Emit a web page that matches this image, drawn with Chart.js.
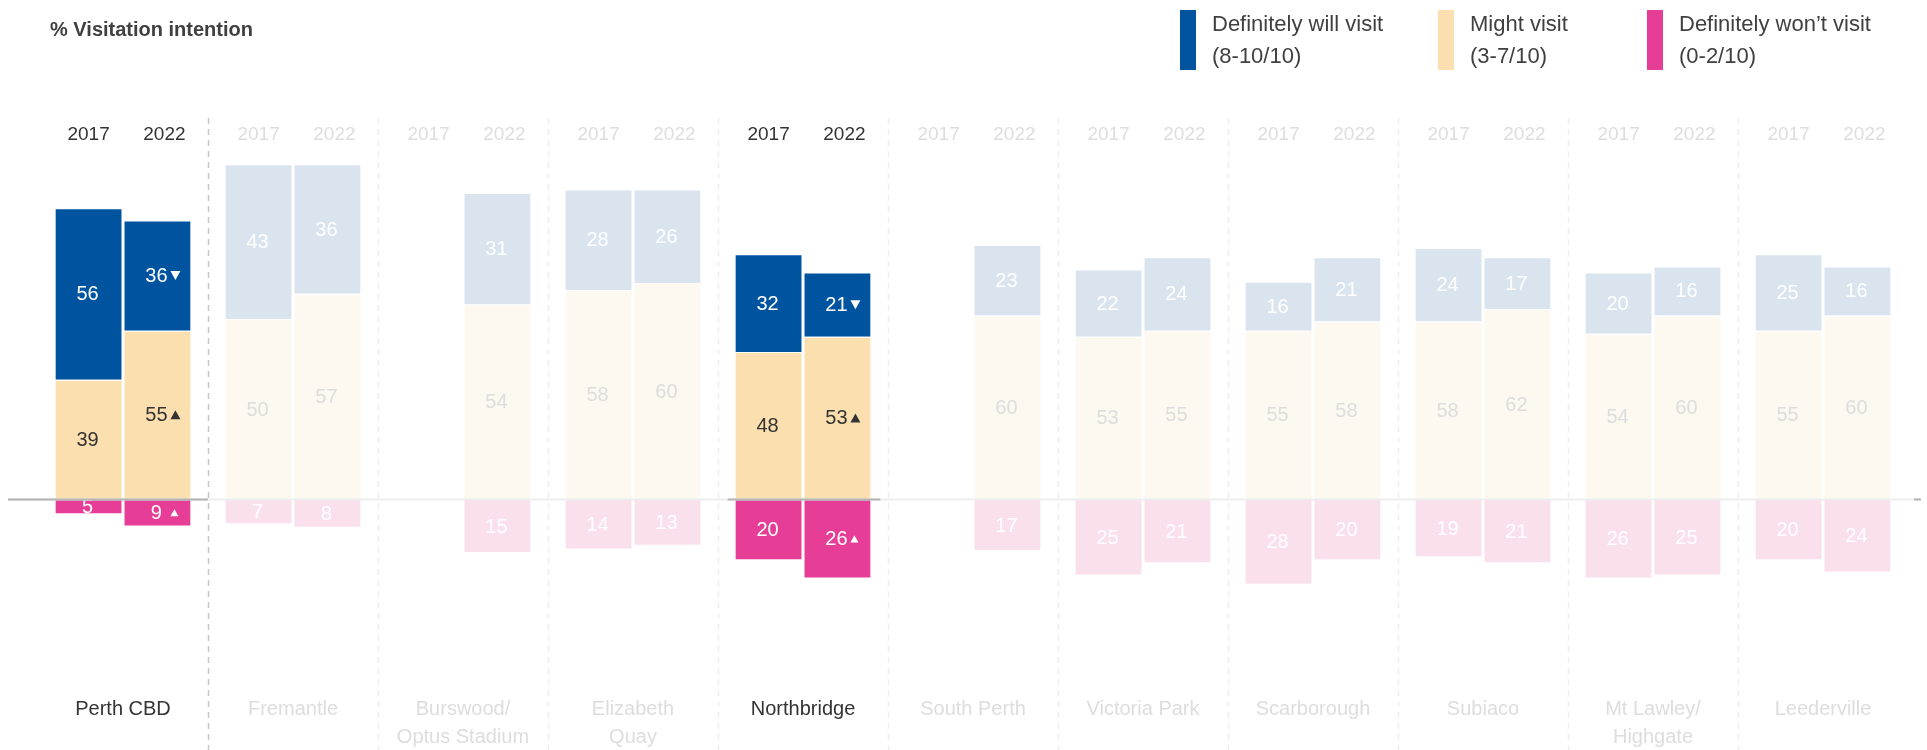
<!DOCTYPE html>
<html>
<head>
<meta charset="utf-8">
<script src="https://cdn.jsdelivr.net/npm/chart.js@4.4.0/dist/chart.umd.min.js"></script>
<style>
  body { margin: 0; background: #fff; }
  #wrap { position: relative; width: 1927px; height: 750px; color: #404040;
    font-family: 'Liberation Sans Narrow', 'Arial Narrow', 'Liberation Sans', Arial, sans-serif; }
  #wrap canvas { position: absolute; left: 0; top: 0; }
  .title { position: absolute; left: 50px; top: 18px; font-size: 20px; font-weight: bold; }
  .key { position: absolute; top: 10px; height: 60px; }
  .key i { position: absolute; left: 0; top: 0; width: 16px; height: 60px; }
  .key span { position: absolute; left: 32px; top: -2px; font-size: 22px; line-height: 32px; white-space: nowrap; }
</style>
</head>
<body>
<div id="wrap">
  <canvas id="visitChart" width="1927" height="750"></canvas>
  <div class="title">% Visitation intention</div>
  <div class="key" style="left:1180px"><i style="background:#00539F"></i><span>Definitely will visit<br>(8-10/10)</span></div>
  <div class="key" style="left:1438px"><i style="background:#FCDFAE"></i><span>Might visit<br>(3-7/10)</span></div>
  <div class="key" style="left:1647px"><i style="background:#E63E96"></i><span>Definitely won’t visit<br>(0-2/10)</span></div>
</div>
<script>
// locations and survey years
const locations = ['Perth CBD', 'Fremantle', ['Burswood/', 'Optus Stadium'], ['Elizabeth', 'Quay'], 'Northbridge',
  'South Perth', 'Victoria Park', 'Scarborough', 'Subiaco', ['Mt Lawley/', 'Highgate'], 'Leederville'];
const years = ['2017', '2022'];

// % definitely will visit
const will2017 = [56, 43, null, 28, 32, null, 22, 16, 24, 20, 25];
const will2022 = [36, 36, 31, 26, 21, 23, 24, 21, 17, 16, 16];
// % might visit
const might2017 = [39, 50, null, 58, 48, null, 53, 55, 58, 54, 55];
const might2022 = [55, 57, 54, 60, 53, 60, 55, 58, 62, 60, 60];
// % definitely won't visit (drawn below zero)
const wont2017 = [5, 7, null, 14, 20, null, 25, 28, 19, 26, 20];
const wont2022 = [9, 8, 15, 13, 26, 17, 21, 20, 21, 25, 24];

// significant change markers on 2022
const moveWill2022 = ['down', '', '', '', 'down', '', '', '', '', '', ''];
const moveMight2022 = ['up', '', '', '', 'up', '', '', '', '', '', ''];
const moveWont2022 = ['up', '', '', '', 'up', '', '', '', '', '', ''];

// which locations are highlighted, and which were drawn on a taller scale in the source
const focus = [true, false, false, false, true, false, false, false, false, false, false];
const tallScale = [false, true, true, true, false, false, false, false, false, false, false];

const FONT = "'Liberation Sans Narrow', 'Arial Narrow', 'Liberation Sans', Arial, sans-serif";
const strong = { will: '#00539F', might: '#FCDFAE', wont: '#E63E96' };
const faded = { will: '#D9E4EF', might: '#FDF9F1', wont: '#FADFED' };

function makeSet(kind, year, values, moves, tall) {
  return {
    label: kind + year,
    kind: kind,
    moves: moves,
    stack: year,
    yAxisID: tall ? 'y2' : 'y',
    data: values.map((v, i) => (v == null || tallScale[i] !== tall) ? null : (kind === 'wont' ? -v : v)),
    backgroundColor: c => (focus[c.dataIndex] ? strong : faded)[kind],
    borderColor: 'rgba(255,255,255,0.8)',
    borderWidth: 1
  };
}

const datasets = [];
[false, true].forEach(tall => {
  datasets.push(makeSet('might', '2017', might2017, null, tall));
  datasets.push(makeSet('will', '2017', will2017, null, tall));
  datasets.push(makeSet('wont', '2017', wont2017, null, tall));
  datasets.push(makeSet('might', '2022', might2022, moveMight2022, tall));
  datasets.push(makeSet('will', '2022', will2022, moveWill2022, tall));
  datasets.push(makeSet('wont', '2022', wont2022, moveWont2022, tall));
});

function triangle(ctx, x, y, w, up) {
  const h = w * 0.9;
  ctx.beginPath();
  if (up) { ctx.moveTo(x, y + h / 2); ctx.lineTo(x + w, y + h / 2); ctx.lineTo(x + w / 2, y - h / 2); }
  else { ctx.moveTo(x, y - h / 2); ctx.lineTo(x + w, y - h / 2); ctx.lineTo(x + w / 2, y + h / 2); }
  ctx.closePath();
  ctx.fill();
}

// dividers behind the bars
const dividers = {
  id: 'dividers',
  beforeDatasetsDraw(chart) {
    const { ctx, scales: { x } } = chart;
    const step = x.getPixelForValue(1) - x.getPixelForValue(0);
    ctx.save();
    ctx.lineWidth = 1.5;
    ctx.setLineDash([6, 5]);
    for (let i = 0; i < locations.length - 1; i++) {
      const px = Math.round(x.getPixelForValue(i) + step / 2) + 0.5;
      ctx.strokeStyle = i === 0 ? '#c6c6c6' : '#eeeeee';
      ctx.beginPath();
      ctx.moveTo(px, 118);
      ctx.lineTo(px, 750);
      ctx.stroke();
    }
    ctx.restore();
  }
};

// numbers in the bars, the zero line and the year labels
const annotations = {
  id: 'annotations',
  afterDatasetsDraw(chart) {
    const { ctx, scales: { x, y } } = chart;
    ctx.save();
    ctx.font = '20px ' + FONT;
    ctx.textAlign = 'center';
    ctx.textBaseline = 'middle';
    chart.data.datasets.forEach((d, di) => {
      chart.getDatasetMeta(di).data.forEach((bar, i) => {
        const v = d.data[i];
        if (v == null) return;
        const cy = (bar.y + bar.base) / 2;
        let col = '#ffffff';
        if (d.kind === 'might') col = focus[i] ? '#333333' : '#dddddd';
        ctx.fillStyle = col;
        ctx.fillText(String(Math.abs(v)), bar.x - 1, cy + 1);
        const mv = d.moves ? d.moves[i] : '';
        if (mv) {
          const w = d.kind === 'wont' ? 8 : 10;
          triangle(ctx, bar.x + 13, cy, w, mv === 'up');
        }
      });
    });

    // zero line
    const step = x.getPixelForValue(1) - x.getPixelForValue(0);
    const zy = Math.round(y.getPixelForValue(0)) + 0.5;
    ctx.lineWidth = 2;
    ctx.strokeStyle = '#eeeeee';
    ctx.beginPath(); ctx.moveTo(8, zy); ctx.lineTo(1921, zy); ctx.stroke();
    const ref = chart.getDatasetMeta(1).data;
    const ref2 = chart.getDatasetMeta(4).data;
    ctx.strokeStyle = '#b4b4b4';
    focus.forEach((f, i) => {
      if (!f) return;
      const x0 = i === 0 ? 8 : ref[i].x - ref[i].width / 2 - 7;
      const x1 = i === 0 ? x.getPixelForValue(0) + step / 2 : ref2[i].x + ref2[i].width / 2 + 9;
      ctx.beginPath(); ctx.moveTo(x0, zy); ctx.lineTo(x1, zy); ctx.stroke();
    });
    ctx.beginPath(); ctx.moveTo(1914, zy); ctx.lineTo(1921, zy); ctx.stroke();

    // year labels over each pair of bars
    ctx.font = '19px ' + FONT;
    locations.forEach((loc, i) => {
      ctx.fillStyle = focus[i] ? '#333333' : '#dddddd';
      ctx.fillText(years[0], ref[i].x, 135);
      ctx.fillText(years[1], ref2[i].x + 7, 135);
    });
    ctx.restore();
  }
};

const visitCtx = document.getElementById('visitChart').getContext('2d');
const visitChart = new Chart(visitCtx, {
  type: 'bar',
  data: { labels: locations, datasets: datasets },
  options: {
    responsive: false,
    animation: false,
    events: [],
    layout: { padding: { left: 38, right: 19, top: 160, bottom: -3 } },
    datasets: { bar: { categoryPercentage: 0.81, barPercentage: 0.985 } },
    plugins: { legend: { display: false }, tooltip: { enabled: false } },
    scales: {
      x: {
        stacked: true,
        grid: { display: true, drawOnChartArea: false, drawTicks: true, tickLength: 92, color: 'rgba(0,0,0,0)' },
        border: { display: false },
        ticks: {
          autoSkip: false,
          maxRotation: 0,
          padding: 2,
          color: c => focus[c.index] ? '#333333' : '#dddddd',
          font: { family: FONT, size: 20, lineHeight: 1.4 }
        }
      },
      y: { stacked: true, display: false, min: -35, max: 110 },
      y2: { stacked: true, display: false, min: -30, max: 94 }
    }
  },
  plugins: [dividers, annotations]
});

// put zero at the same height on both value axes
const zeroAt = 499, pxPerUnit = 3.06, pxPerUnitTall = 3.6;
const area = visitChart.chartArea;
visitChart.options.scales.y.max = (zeroAt - area.top) / pxPerUnit;
visitChart.options.scales.y.min = -(area.bottom - zeroAt) / pxPerUnit;
visitChart.options.scales.y2.max = (zeroAt - area.top) / pxPerUnitTall;
visitChart.options.scales.y2.min = -(area.bottom - zeroAt) / pxPerUnitTall;
visitChart.update();
</script>
</body>
</html>
